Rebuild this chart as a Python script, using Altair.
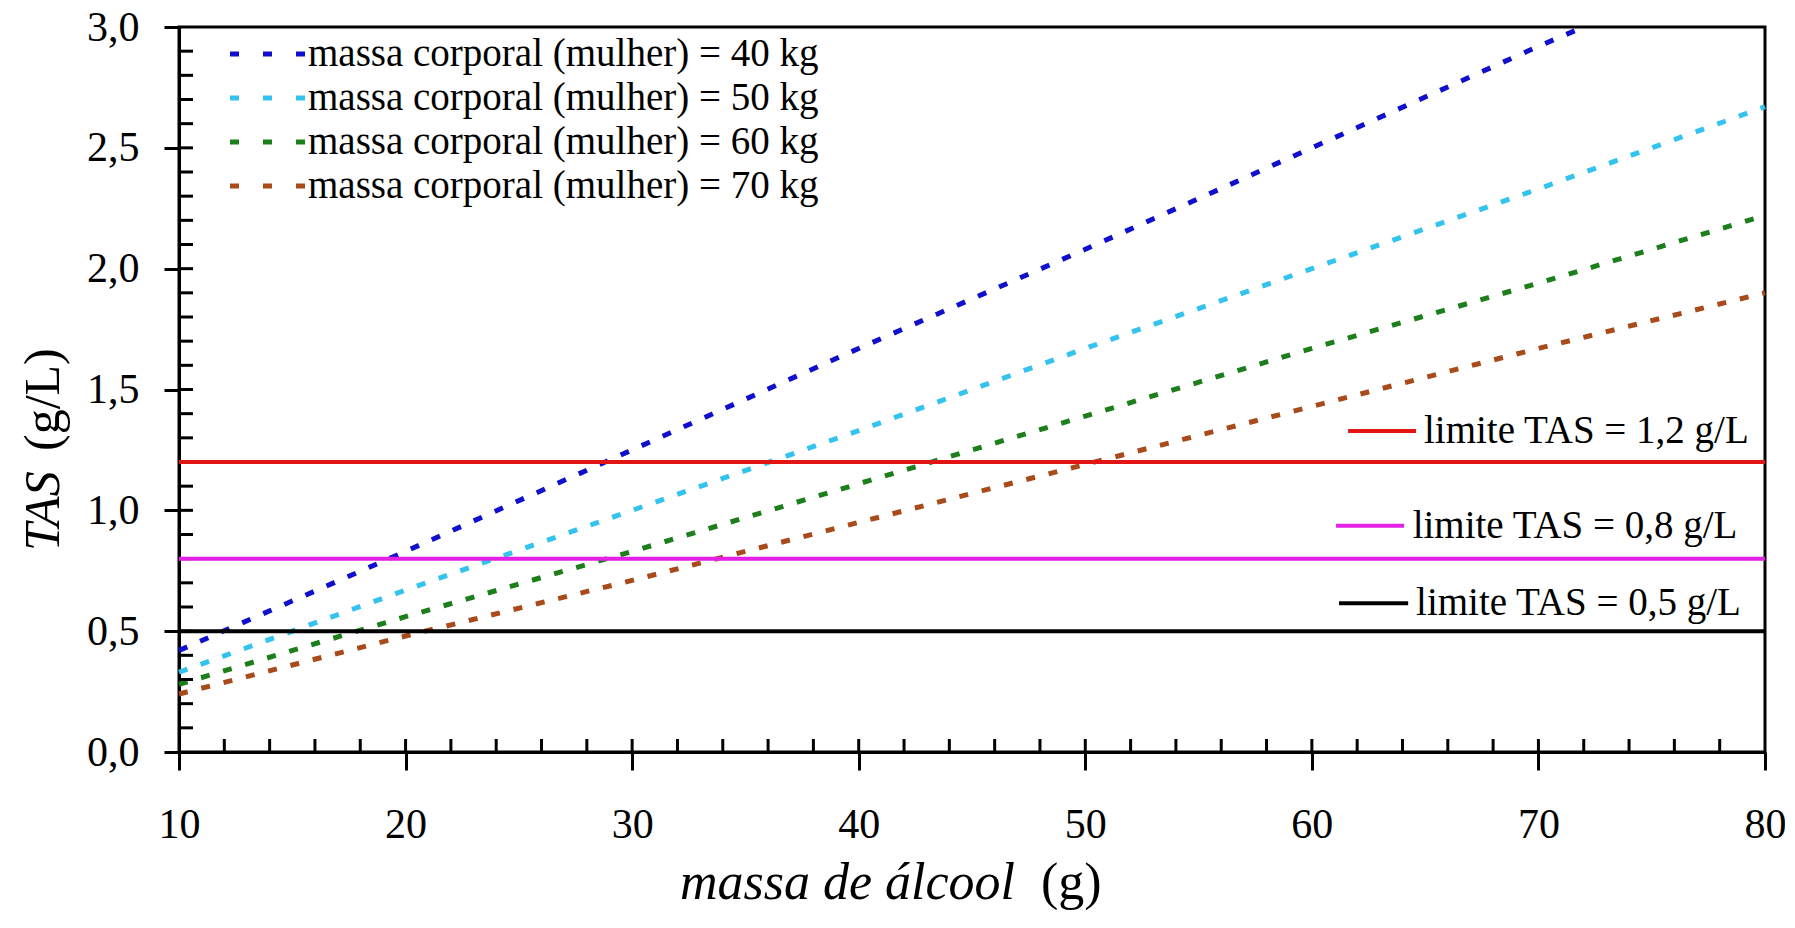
import altair as alt
import pandas as pd

# ---- data ----
alcool = [10, 20, 30, 40, 50, 60, 70, 80]
alcool_40 = [10, 20, 30, 40, 50, 60, 70, 72]
tas_40 = [0.42, 0.83, 1.25, 1.67, 2.08, 2.50, 2.92, 3.00]
tas_50 = [0.33, 0.67, 1.00, 1.33, 1.67, 2.00, 2.33, 2.67]
tas_60 = [0.28, 0.56, 0.83, 1.11, 1.39, 1.67, 1.94, 2.22]
tas_70 = [0.24, 0.48, 0.71, 0.95, 1.19, 1.43, 1.67, 1.90]
series_names = [
    "massa corporal (mulher) = 40 kg",
    "massa corporal (mulher) = 50 kg",
    "massa corporal (mulher) = 60 kg",
    "massa corporal (mulher) = 70 kg",
]
series_colors = ["#1010CC", "#33C3EE", "#1C7F1C", "#A84A1A"]

limites = [1.2, 0.8, 0.5]
limite_labels = ["limite TAS = 1,2 g/L", "limite TAS = 0,8 g/L", "limite TAS = 0,5 g/L"]
limite_colors = ["#E31414", "#E320E3", "#000000"]
limite_text_x = [64.95, 64.45, 64.6]
limite_sample_x0 = [61.6, 61.07, 61.2]
limite_sample_x1 = [64.6, 64.07, 64.25]
limite_dy = [-31, -33, -28]

x_ticks = [10, 20, 30, 40, 50, 60, 70, 80]
y_ticks = [0.0, 0.5, 1.0, 1.5, 2.0, 2.5, 3.0]

FONT = "Liberation Serif"
W, H = 1586, 725

rows = []
for name, xs, ys in zip(series_names, [alcool_40, alcool, alcool, alcool], [tas_40, tas_50, tas_60, tas_70]):
    for a, t in zip(xs, ys):
        rows.append({"alcool": a, "tas": t, "serie": name})
df = pd.DataFrame(rows)

x_scale = alt.Scale(domain=[10, 80], nice=False, zero=False)
y_scale = alt.Scale(domain=[0, 3], nice=False, zero=False)

x_axis = alt.Axis(values=x_ticks, format="d", title=None, grid=False,
                  labelFont=FONT, labelFontSize=42, labelColor="black",
                  labelFlush=False, labelOverlap=False,
                  tickSize=18, tickWidth=3, tickColor="black",
                  domainWidth=3, domainColor="black", labelPadding=34)
y_axis = alt.Axis(values=y_ticks, title=None, grid=False,
                  labelExpr="replace(format(datum.value, '.1f'), '.', ',')",
                  labelFont=FONT, labelFontSize=42, labelColor="black",
                  labelFlush=False, labelOverlap=False,
                  tickSize=15, tickWidth=3, tickColor="black",
                  domainWidth=3, domainColor="black", labelPadding=25)

X = lambda f: alt.X(f, scale=x_scale, axis=x_axis)
Y = lambda f: alt.Y(f, scale=y_scale, axis=y_axis)

lines = alt.Chart(df).mark_line(strokeDash=[9, 14], strokeWidth=5).encode(
    x=X("alcool:Q"),
    y=Y("tas:Q"),
    color=alt.Color("serie:N", scale=alt.Scale(domain=series_names, range=series_colors), legend=None),
)

lim_df = pd.DataFrame({
    "tas": limites, "label": limite_labels, "cor": limite_colors,
    "xt": limite_text_x, "x0": limite_sample_x0, "x1": limite_sample_x1,
})

lim_rules = alt.Chart(lim_df).mark_rule(strokeWidth=4).encode(
    y=Y("tas:Q"),
    color=alt.Color("cor:N", scale=None),
)

layers = [lines]

# inner (inward) ticks
xt_df = pd.DataFrame({"alcool": list(range(12, 80, 2))})
layers.append(alt.Chart(xt_df).mark_rule(strokeWidth=3, color="black").encode(
    x=X("alcool:Q"), y=alt.value(H - 13), y2=alt.value(H)))
yt_df = pd.DataFrame({"tas": [round(i * 0.1, 1) for i in range(1, 30)]})
layers.append(alt.Chart(yt_df).mark_rule(strokeWidth=3, color="black").encode(
    y=Y("tas:Q"), x=alt.value(0), x2=alt.value(14)))

layers.append(lim_rules)

# labels of the limit lines, each with a short solid sample
for i in range(len(limites)):
    sub = lim_df.iloc[[i]]
    layers.append(alt.Chart(sub).mark_rule(strokeWidth=4, yOffset=limite_dy[i]).encode(
        x=X("x0:Q"), x2="x1:Q", y=Y("tas:Q"), color=alt.Color("cor:N", scale=None)))
    layers.append(alt.Chart(sub).mark_text(align="left", baseline="middle", dy=limite_dy[i],
                                           font=FONT, fontSize=39, color="black").encode(
        x=X("xt:Q"), y=Y("tas:Q"), text="label:N"))

one = pd.DataFrame({"k": [0]})

# legend (top-left, inside plot)
for i, (name, col) in enumerate(zip(series_names, series_colors)):
    ly = 27 + 44 * i
    layers.append(alt.Chart(one).mark_rule(strokeDash=[9, 24], strokeWidth=5, color=col).encode(
        x=alt.value(51), x2=alt.value(126), y=alt.value(ly)))
    layers.append(alt.Chart(one).mark_text(align="left", baseline="middle", font=FONT,
                                           fontSize=39, color="black").encode(
        x=alt.value(129), y=alt.value(ly), text=alt.value(name)))

# axis titles
layers.append(alt.Chart(one).mark_text(align="right", baseline="middle", font=FONT, fontSize=52,
                                       fontStyle="italic", color="black").encode(
    x=alt.value(836), y=alt.value(856), text=alt.value("massa de álcool")))
layers.append(alt.Chart(one).mark_text(align="left", baseline="middle", font=FONT, fontSize=52,
                                       color="black").encode(
    x=alt.value(862), y=alt.value(856), text=alt.value("(g)")))
layers.append(alt.Chart(one).mark_text(align="left", baseline="middle", angle=270, font=FONT,
                                       fontSize=50, fontStyle="italic", color="black").encode(
    x=alt.value(-135), y=alt.value(524), text=alt.value("TAS")))
layers.append(alt.Chart(one).mark_text(align="left", baseline="middle", angle=270, font=FONT,
                                       fontSize=50, color="black").encode(
    x=alt.value(-135), y=alt.value(424), text=alt.value("(g/L)")))

chart = alt.layer(*layers).properties(
    width=W, height=H,
    autosize=alt.AutoSizeParams(type="none"),
    padding={"left": 171, "top": 19, "right": 20, "bottom": 164},
    background="white",
).configure_view(stroke="black", strokeWidth=3)

chart.save("out.html", embed_options={"renderer": "svg", "actions": False})
